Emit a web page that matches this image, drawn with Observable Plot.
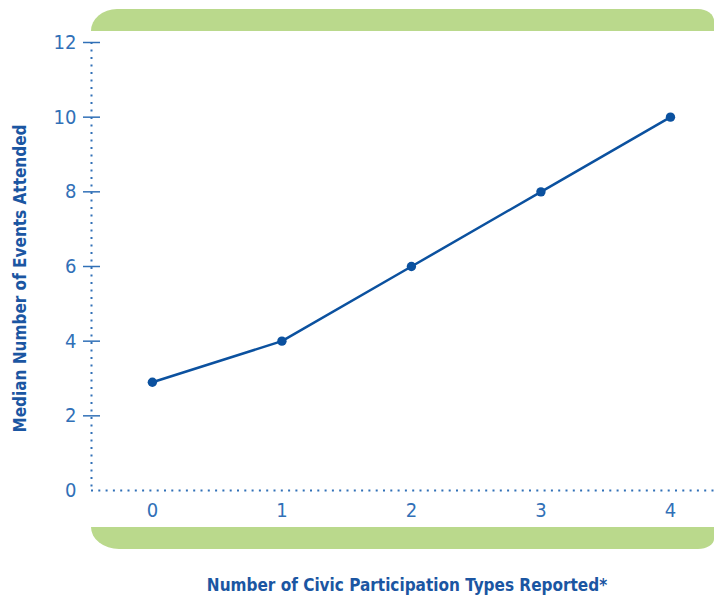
<!DOCTYPE html>
<html>
<head>
<meta charset="utf-8">
<script src="https://cdn.jsdelivr.net/npm/d3@7"></script>
<script src="https://cdn.jsdelivr.net/npm/@observablehq/plot@0.6"></script>
<style>
  html, body { margin: 0; padding: 0; background: #fff; overflow: hidden; }
  #wrap { position: relative; width: 714px; height: 601px; }
  .band { position: absolute; background: #bad98c; }
  #topBand { left: 91px; top: 9px; width: 623px; height: 22px; border-top-left-radius: 26px 22px; border-top-right-radius: 16px 12px; }
  #bottomBand { left: 91px; top: 527px; width: 623px; height: 22px; border-bottom-left-radius: 28px 22px; border-bottom-right-radius: 16px 10px; }
  #chart { position: absolute; left: 0; top: 0; }
</style>
</head>
<body>
<div id="wrap">
  <div class="band" id="topBand"></div>
  <div class="band" id="bottomBand"></div>
  <div id="chart"></div>
</div>
<script>
// ---- data ----
const participationTypes = [0, 1, 2, 3, 4];
const medianEvents = [2.9, 4, 6, 8, 10];
const yTicks = [0, 2, 4, 6, 8, 10, 12];
const xTicks = [0, 1, 2, 3, 4];
const xTitle = "Number of Civic Participation Types Reported*";
const yTitle = "Median Number of Events Attended";

// ---- styling ----
const lineColor = "#0b519f";
const tickColor = "#3170b7";
const titleColor = "#1b56a2";
const xDomain = [-0.47, 4.34];

const data = participationTypes.map((x, i) => ({x, y: medianEvents[i]}));

const chart = Plot.plot({
  width: 714,
  height: 601,
  marginLeft: 91,
  marginRight: 0,
  marginTop: 42,
  marginBottom: 111,
  x: {domain: xDomain},
  y: {domain: [0, 12]},
  style: {
    fontFamily: "'DejaVu Sans Condensed', 'Liberation Sans Narrow', sans-serif",
    background: "transparent",
    overflow: "visible"
  },
  marks: [
    Plot.ruleY([0], {stroke: tickColor, strokeWidth: 2, strokeDasharray: "2 5.3"}),
    Plot.ruleX([xDomain[0]], {stroke: tickColor, strokeWidth: 2, strokeDasharray: "2 5.5"}),
    Plot.axisY({ticks: yTicks, tickSize: 0, tickPadding: 15, tickFormat: d3.format("d"), fontSize: 20, fill: tickColor, label: null}),
    Plot.axisY({ticks: yTicks.filter(v => v > 0), tickSize: 17, dx: 9, tickFormat: () => "", stroke: tickColor, strokeWidth: 1.5, label: null}),
    Plot.axisX({ticks: xTicks, tickSize: 0, tickPadding: 12, tickFormat: d3.format("d"), fontSize: 20, fill: tickColor, label: null}),
    Plot.line(data, {x: "x", y: "y", stroke: lineColor, strokeWidth: 2.5}),
    Plot.dot(data, {x: "x", y: "y", r: 4.7, fill: lineColor, stroke: "none"}),
    Plot.text([xTitle], {text: d => d, frameAnchor: "bottom", textAnchor: "middle", dy: 100, dx: 4, fontSize: 17, fontWeight: "bold", fill: titleColor}),
    Plot.text([yTitle], {text: d => d, frameAnchor: "left", textAnchor: "middle", rotate: -90, dx: -71, dy: 12, fontSize: 17, fontWeight: "bold", fill: titleColor})
  ]
});
document.getElementById("chart").appendChild(chart);
</script>
</body>
</html>
